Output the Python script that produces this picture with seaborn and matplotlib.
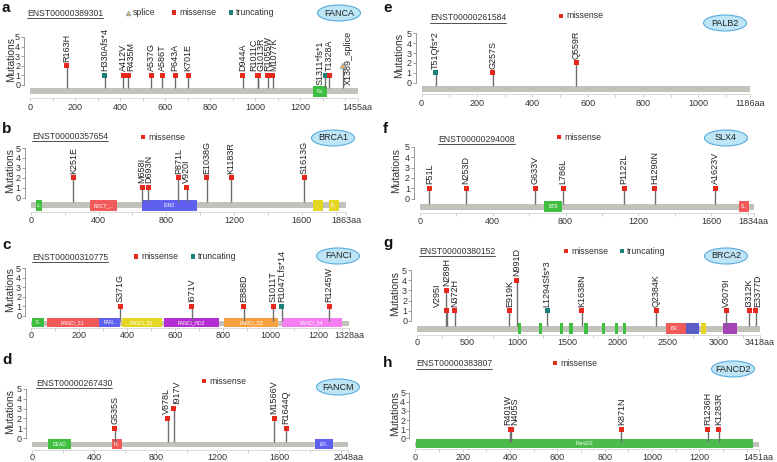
import matplotlib
matplotlib.use("Agg")
import matplotlib.pyplot as plt
from matplotlib.patches import Rectangle, Ellipse
import seaborn as sns
import pandas as pd

sns.set_theme(style="ticks")
plt.rcParams['font.family'] = ['Liberation Sans', 'DejaVu Sans']

W, H = 777, 462

# ---- mutation data ----
FANCA_pos = [163, 330, 412, 435, 537, 586, 643, 701, 944, 1011, 1013, 1055, 1077, 1311, 1328, 1389]
FANCA_lab = ["R163H", "H330Afs*4", "A412V", "R435M", "A537G", "A586T", "P643A", "K701E", "D944A",
             "R1011C", "G1013R", "R1055W", "M1077K", "S1311*fs*1", "T1328A", "X1389_splice"]
FANCA_cnt = [2, 1, 1, 1, 1, 1, 1, 1, 1, 1, 1, 1, 1, 1, 1, 2]
FANCA_type = ["missense", "truncating"] + ["missense"] * 11 + ["truncating", "missense", "splice"]

PALB2_pos = [51, 257, 559]
PALB2_lab = ["T51Qfs*2", "G257S", "Q559R"]
PALB2_cnt = [1, 1, 2]
PALB2_type = ["truncating", "missense", "missense"]

BRCA1_pos = [251, 658, 693, 871, 920, 1038, 1183, 1613]
BRCA1_lab = ["K251E", "M658I", "D693N", "P871L", "V920I", "E1038G", "K1183R", "S1613G"]
BRCA1_cnt = [2, 1, 1, 2, 1, 2, 2, 2]
BRCA1_type = ["missense"] * 8

SLX4_pos = [51, 253, 633, 786, 1122, 1290, 1623]
SLX4_lab = ["F51L", "N253D", "G633V", "L786L", "P1122L", "H1290N", "A1623V"]
SLX4_cnt = [1, 1, 1, 1, 1, 1, 1]
SLX4_type = ["missense"] * 7

FANCI_pos = [371, 671, 888, 1011, 1047, 1245]
FANCI_lab = ["S371G", "I671V", "E888D", "S1011T", "R1047Lfs*14", "R1245W"]
FANCI_cnt = [1, 1, 1, 1, 1, 1]
FANCI_type = ["missense", "missense", "missense", "missense", "truncating", "missense"]

BRCA2_pos = [295, 289, 372, 919, 991, 1294, 1638, 2384, 3079, 3312, 3377]
BRCA2_lab = ["V295I", "N289H", "N372H", "E919K", "N991D", "L1294Sfs*3", "K1638N",
             "Q2384K", "V3079I", "I3312K", "E3377D"]
BRCA2_cnt = [1, 3, 1, 1, 4, 1, 1, 1, 1, 1, 1]
BRCA2_type = ["missense"] * 5 + ["truncating"] + ["missense"] * 5

FANCM_pos = [535, 878, 917, 1566, 1644]
FANCM_lab = ["G535S", "V878L", "I917V", "M1566V", "R1644Q"]
FANCM_cnt = [1, 2, 3, 2, 1]
FANCM_type = ["missense"] * 5

FANCD2_pos = [401, 405, 871, 1236, 1283]
FANCD2_lab = ["R401W", "N405S", "K871N", "R1236H", "K1283R"]
FANCD2_cnt = [1, 1, 1, 1, 1]
FANCD2_type = ["missense"] * 5

# protein domains: (name, start, end, colour)
GREEN, RED, BLUE, YELLOW = '#3fbf3f', '#f25a5a', '#5f5ff0', '#e6d624'
FANCA_dom = [("Fa", 1256, 1318, GREEN)]
PALB2_dom = []
BRCA1_dom = [("z..", 29, 68, GREEN), ("BRCT_...", 349, 511, RED), ("EIN3", 655, 979, BLUE),
             ("", 1664, 1727, YELLOW), ("B..", 1760, 1821, YELLOW)]
SLX4_dom = [("BTB", 682, 782, GREEN), ("S..", 1752, 1807, RED)]
FANCI_dom = [("F..", 4, 54, GREEN), ("FANCI_S1", 64, 283, RED), ("FAN..", 284, 371, BLUE),
             ("FANCI_S2", 378, 545, YELLOW), ("FANCI_HD2", 556, 786, '#b52ed2'),
             ("FANCI_S3", 806, 1033, '#f8a23f'), ("FANCI_S4", 1047, 1298, '#f57ef2')]
BRCA2_dom = [("", 1002, 1036, GREEN), ("", 1212, 1246, GREEN), ("", 1421, 1455, GREEN),
             ("", 1517, 1551, GREEN), ("", 1664, 1698, GREEN), ("", 1837, 1871, GREEN),
             ("", 1972, 2006, GREEN), ("", 2051, 2085, GREEN), ("BR..", 2479, 2675, RED),
             ("", 2675, 2805, '#5c5cc8'), ("", 2832, 2875, YELLOW), ("", 3048, 3190, '#a545b5')]
FANCM_dom = [("DEAD", 105, 252, GREEN), ("H..", 520, 581, RED), ("ER..", 1833, 1950, BLUE)]
FANCD2_dom = [("FancD2", 4, 1425, '#4cbb4c')]

genes = ["FANCA", "PALB2", "BRCA1", "SLX4", "FANCI", "BRCA2", "FANCM", "FANCD2"]
lengths = [1455, 1186, 1863, 1834, 1328, 3418, 2048, 1451]
transcripts = ["ENST00000389301", "ENST00000261584", "ENST00000357654", "ENST00000294008",
               "ENST00000310775", "ENST00000380152", "ENST00000267430", "ENST00000383807"]
tick_steps = [200, 200, 400, 400, 200, 500, 400, 200]
panel_letters = ["a", "e", "b", "f", "c", "g", "d", "h"]
legend_types = [["splice", "missense", "truncating"], ["missense"], ["missense"], ["missense"],
                ["missense", "truncating"], ["missense", "truncating"], ["missense"], ["missense"]]

MUT_COLORS = {'missense': '#e8281e', 'truncating': '#1b8178', 'splice': '#f2b233'}
MUT_MARKERS = {'missense': 's', 'truncating': 's', 'splice': '^'}
BAR = '#c2c2ba'

# ---- layout in figure pixels ----
# ox/ex: x of aa 0 / aa length; y0/y5: y of 0 and 5 mutations; tlab: centre of x tick labels
LAYOUT = {
    "FANCA":  dict(ox=30.3, ex=357.8, y0=85, y5=37, bar=(88, 94), dom=(86, 97), axis=97.5, tlab=107,
                   letter=(2, 11.5), tid=(27, 13), leg=(12.7, [128, 174, 231]), ell=(339, 13), ylab=11),
    "PALB2":  dict(ox=421.6, ex=749.9, y0=82.5, y5=33.5, bar=(86, 92), dom=(86, 92), axis=94, tlab=103,
                   letter=(383, 11.5), tid=(430, 18), leg=(16, [561]), ell=(725, 23), ylab=399),
    "BRCA1":  dict(ox=30.8, ex=346.4, y0=197.5, y5=148, bar=(201.5, 208), dom=(200, 211), axis=212, tlab=220,
                   letter=(2, 133), tid=(32, 136.3), leg=(137, [143]), ell=(333, 138), ylab=10),
    "SLX4":   dict(ox=420, ex=753.7, y0=198.5, y5=147, bar=(204.3, 210), dom=(201.3, 212), axis=213, tlab=221,
                   letter=(383, 133), tid=(438, 139), leg=(137, [559]), ell=(726, 138), ylab=396),
    "FANCI":  dict(ox=31.3, ex=348.9, y0=315.7, y5=268.3, bar=(320.7, 326), dom=(318.3, 327.3), axis=328,
                   tlab=335, letter=(2, 249), tid=(32, 257), leg=(256.5, [136, 193]), ell=(338, 256), ylab=10),
    "BRCA2":  dict(ox=417.3, ex=760.1, y0=321, y5=270, bar=(325.7, 331.7), dom=(322.7, 333.7), axis=335,
                   tlab=342, letter=(383, 247), tid=(419, 251), leg=(251, [566, 622]), ell=(726, 256), ylab=395),
    "FANCM":  dict(ox=32, ex=348.5, y0=438, y5=389, bar=(441.7, 446.7), dom=(439.3, 449), axis=449.5,
                   tlab=456.5, letter=(2, 364), tid=(36, 383), leg=(381, [204]), ell=(338, 387), ylab=10),
    "FANCD2": dict(ox=415.4, ex=758.7, y0=438.3, y5=392.7, bar=(441.7, 446.7), dom=(439.3, 448.3), axis=449,
                   tlab=456.5, letter=(383, 367), tid=(416, 364), leg=(363, [555]), ell=(733, 369), ylab=395),
}
# label nudges (px), optional base level for labels placed beside the stem
NUDGE = {"R435M": (3, None), "R1011C": (-4, None), "G1013R": (3, None),
         "R1055W": (-0.5, None), "M1077K": (1.5, None),
         "S1311*fs*1": (-5, 0), "X1389_splice": (5, 0), "V295I": (-9, None),
         "M658I": (-1, None), "D693N": (1, None), "I3312K": (-1, None), "E3377D": (1.5, None),
         "V878L": (-1, None), "I917V": (3, None), "R401W": (-2.5, None), "N405S": (3.5, None)}

fig = plt.figure(figsize=(W / 100, H / 100), dpi=100)


def px_rect(l, t, r, b):
    return [l / W, 1 - b / H, (r - l) / W, (b - t) / H]


def draw_panel(i, gene):
    lay = LAYOUT[gene]
    L = lengths[i]
    g = globals()
    df = pd.DataFrame({'pos': g[gene + '_pos'], 'lab': g[gene + '_lab'],
                       'cnt': g[gene + '_cnt'], 'type': g[gene + '_type']})
    slope = (lay['ex'] - lay['ox']) / L
    unit = (lay['y0'] - lay['y5']) / 5
    left, right = lay['ox'] - 6, lay['ex'] + 3
    top, bottom = lay['y5'] - 4, lay['axis']
    ax = fig.add_axes(px_rect(left, top, right, bottom))
    ax.set_xlim((left - lay['ox']) / slope, (right - lay['ox']) / slope)
    ax.set_ylim((lay['y0'] - bottom) / unit, (lay['y0'] - top) / unit)
    ax.patch.set_alpha(0)

    def to_y(py):
        return (lay['y0'] - py) / unit

    bt, bb = lay['bar']
    ax.add_patch(Rectangle((0, to_y(bb)), L, to_y(bt) - to_y(bb), fc=BAR, ec='none', zorder=1))
    dt, db = lay['dom']
    for name, s, e, c in g[gene + '_dom']:
        ax.add_patch(Rectangle((s, to_y(db)), e - s, to_y(dt) - to_y(db), fc=c, ec='none', zorder=2))
        if name:
            ax.text((s + e) / 2, (to_y(dt) + to_y(db)) / 2, name, color='white', fontsize=3.6,
                    ha='center', va='center', zorder=3)

    ax.vlines(df['pos'], to_y(bt), df['cnt'], color='#6e6e6e', lw=1.0, zorder=3)
    sns.scatterplot(data=df, x='pos', y='cnt', hue='type', style='type', palette=MUT_COLORS,
                    markers=MUT_MARKERS, s=13, linewidth=0, legend=False, ax=ax, zorder=5, clip_on=False)
    sp = df[df['type'] == 'splice']
    if len(sp):
        ax.scatter(sp['pos'], sp['cnt'], marker='^', s=14, fc='none', ec='#6a9ad6', lw=0.5, zorder=6)

    for _, r in df.iterrows():
        dx, base = NUDGE.get(r['lab'], (0, None))
        if base is None:
            ax.annotate(r['lab'], xy=(r['pos'], r['cnt']), xytext=(dx * 0.72, 3.0),
                        textcoords='offset points', rotation=90, ha='center', va='bottom',
                        fontsize=6.5, color='#222')
        else:
            ax.annotate(r['lab'], xy=(r['pos'], base), xytext=(dx * 0.72, 0),
                        textcoords='offset points', rotation=90, ha='center', va='bottom',
                        fontsize=6.5, color='#222')

    for s in ['top', 'right']:
        ax.spines[s].set_visible(False)
    ax.spines['left'].set_bounds(0, 5)
    ax.spines['left'].set_color('#8a8a8a')
    ax.spines['left'].set_linewidth(0.6)
    ax.spines['bottom'].set_bounds(0, L)
    ax.spines['bottom'].set_color('#d4d4d4')
    ax.spines['bottom'].set_linewidth(0.6)
    ax.set_yticks(range(6))
    ax.tick_params(axis='y', left=True, length=2, width=0.6, color='#8a8a8a', labelsize=6.5, pad=1,
                   labelcolor='#333')

    step = tick_steps[i]
    major = [t for t in range(0, L, step) if L - t >= step * 0.5] + [L]
    minor = [t for t in range(step // 2, L, step // 2) if t not in major]
    ax.set_xticks(major)
    ax.set_xticklabels([str(t) for t in major[:-1]] + [f"{L}aa"])
    ax.set_xticks(minor, minor=True)
    tick_len = 2.2
    pad_px = max(0.0, lay['tlab'] - lay['axis'] - tick_len / 0.72 - 3.6)
    ax.tick_params(axis='x', which='both', bottom=True, length=tick_len, width=0.6, color='#c4c4c4',
                   labelsize=6.5, pad=pad_px * 0.72, labelcolor='#333')
    ax.set_xlabel('')
    ax.set_ylabel('')

    fig.text(lay['ylab'] / W, 1 - ((lay['y0'] + lay['y5']) / 2 - 2) / H, 'Mutations',
             rotation=90, ha='center', va='center', fontsize=7.5, color='#333')


for i, gene in enumerate(genes):
    draw_panel(i, gene)

# header items drawn on an overlay in pixel coordinates
ov = fig.add_axes([0, 0, 1, 1], zorder=10)
ov.set_xlim(0, W)
ov.set_ylim(H, 0)
ov.axis('off')

tid_texts = []
for i, gene in enumerate(genes):
    lay = LAYOUT[gene]
    ov.text(lay['letter'][0], lay['letter'][1], panel_letters[i], fontsize=11, fontweight='bold',
            ha='left', va='baseline', color='#111')
    t = ov.text(lay['tid'][0], lay['tid'][1], transcripts[i], fontsize=6.2, ha='left', va='center',
                color='#333')
    tid_texts.append(t)
    ly, lxs = lay['leg']
    for typ, lx in zip(legend_types[i], lxs):
        ov.scatter([lx], [ly], marker=MUT_MARKERS[typ], s=11, color=MUT_COLORS[typ],
                   ec='#6a9ad6' if typ == 'splice' else 'none', lw=0.5)
        ov.text(lx + 5, ly, typ, fontsize=6.3, ha='left', va='center', color='#333')
    ex, ey = lay['ell']
    ov.add_patch(Ellipse((ex, ey), 43, 16, fc='#bde5f6', ec='#58acdc', lw=0.8))
    ov.text(ex, ey, gene, fontsize=6.5, ha='center', va='center', color='#222')

# underline transcript ids
fig.canvas.draw()
inv = ov.transData.inverted()
for t in tid_texts:
    bb = t.get_window_extent()
    (x0, y0), (x1, y1) = inv.transform([[bb.x0, bb.y0], [bb.x1, bb.y1]])
    ov.plot([x0, x1], [y0 + 0.5, y0 + 0.5], color='#333', lw=0.6)

fig.savefig('out.png', dpi=100)
